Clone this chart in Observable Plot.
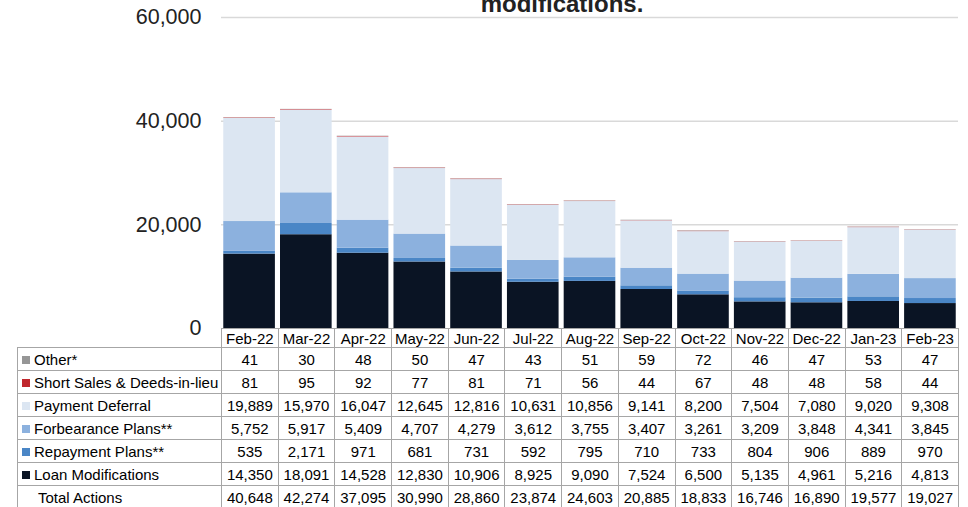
<!DOCTYPE html>
<html>
<head>
<meta charset="utf-8">
<script src="https://cdn.jsdelivr.net/npm/d3@7"></script>
<script src="https://cdn.jsdelivr.net/npm/@observablehq/plot@0.6"></script>
<style>
  html, body { margin: 0; padding: 0; background: #fff; }
  body { width: 968px; height: 507px; overflow: hidden; font-family: "Liberation Sans", Arial, sans-serif; }
  #wrap { position: relative; width: 968px; height: 507px; overflow: hidden; }
  #title { position: absolute; left: 0; width: 1124px; text-align: center; top: -8px; font-size: 24px; line-height: 24px; font-weight: bold; color: #222; }
  #chart { position: absolute; left: 0; top: 0; }
  #tbl { position: absolute; left: 17px; top: 328px; border-collapse: collapse; table-layout: fixed; font-size: 15px; color: #000; }
  #tbl td { border: 1px solid #a6a6a6; padding: 0; height: 22px; text-align: center; white-space: nowrap; overflow: hidden; }
  #tbl tr.head td { height: 18px; }
  #tbl tr.head td.blank { border: none; }
  #tbl td.lab { text-align: left; padding-left: 4px; }
  #tbl td.tot { padding-left: 20px; text-align: left; }
  .sw { display: inline-block; width: 8px; height: 8px; margin-right: 4px; vertical-align: 1px; }
</style>
</head>
<body>
<div id="wrap">
  <div id="chart"></div>
  <div id="title">modifications.</div>
  <table id="tbl"></table>
</div>
<script>
const months = ["Feb-22","Mar-22","Apr-22","May-22","Jun-22","Jul-22","Aug-22","Sep-22","Oct-22","Nov-22","Dec-22","Jan-23","Feb-23"];
const loanMods    = [14350,18091,14528,12830,10906,8925,9090,7524,6500,5135,4961,5216,4813];
const repayment   = [535,2171,971,681,731,592,795,710,733,804,906,889,970];
const forbearance = [5752,5917,5409,4707,4279,3612,3755,3407,3261,3209,3848,4341,3845];
const deferral    = [19889,15970,16047,12645,12816,10631,10856,9141,8200,7504,7080,9020,9308];
const shortSales  = [81,95,92,77,81,71,56,44,67,48,48,58,44];
const other       = [41,30,48,50,47,43,51,59,72,46,47,53,47];
const totals      = [40648,42274,37095,30990,28860,23874,24603,20885,18833,16746,16890,19577,19027];
const yTicks = [0,20000,40000,60000];

const series = [
  {name: "Loan Modifications", values: loanMods, color: "#0a1424"},
  {name: "Repayment Plans**", values: repayment, color: "#4a86c6"},
  {name: "Forbearance Plans**", values: forbearance, color: "#8cb1de"},
  {name: "Payment Deferral", values: deferral, color: "#dce6f2"},
  {name: "Short Sales & Deeds-in-lieu", values: shortSales, color: "#c0272d"},
  {name: "Other*", values: other, color: "#969696"}
];

const data = [];
series.forEach((s, si) => s.values.forEach((v, i) => data.push({month: months[i], series: s.name, value: v, order: si})));

const chart = Plot.plot({
  width: 968,
  height: 345,
  marginLeft: 221,
  marginRight: 10,
  marginTop: 17,
  marginBottom: 17,
  style: {fontFamily: "'Liberation Sans', Arial, sans-serif", background: "transparent"},
  x: {domain: months, paddingInner: 0.09, paddingOuter: 0.04, round: false, axis: null},
  y: {domain: [0, 60000], axis: null},
  color: {domain: series.map(s => s.name), range: series.map(s => s.color)},
  marks: [
    Plot.gridY({ticks: yTicks.filter(t => t > 0), stroke: "#d9d9d9", strokeOpacity: 1, strokeWidth: 1.5}),
    Plot.barY(data, {x: "month", y: "value", fill: "series", order: series.map(s => s.name)}),
    Plot.axisY({ticks: yTicks, tickSize: 0, tickPadding: 20, tickFormat: d3.format(","), fontSize: 21.5, fill: "#222", anchor: "left", label: null})
  ]
});
document.getElementById("chart").appendChild(chart);

// data table
const tbl = document.getElementById("tbl");
const colgroup = document.createElement("colgroup");
const c0 = document.createElement("col"); c0.style.width = "204px"; colgroup.appendChild(c0);
const colW = (958 - 221) / months.length;
months.forEach(() => { const c = document.createElement("col"); c.style.width = colW + "px"; colgroup.appendChild(c); });
tbl.appendChild(colgroup);
tbl.style.width = (204 + colW * months.length) + "px";

const fmt = d3.format(",");
let html = '<tr class="head"><td class="blank"></td>' + months.map(m => `<td>${m}</td>`).join("") + "</tr>";
[...series].reverse().forEach(s => {
  html += `<tr><td class="lab"><span class="sw" style="background:${s.color}"></span>${s.name}</td>` +
    s.values.map(v => `<td>${fmt(v)}</td>`).join("") + "</tr>";
});
html += `<tr><td class="tot">Total Actions</td>` + totals.map(v => `<td>${fmt(v)}</td>`).join("") + "</tr>";
tbl.insertAdjacentHTML("beforeend", html);
</script>
</body>
</html>
